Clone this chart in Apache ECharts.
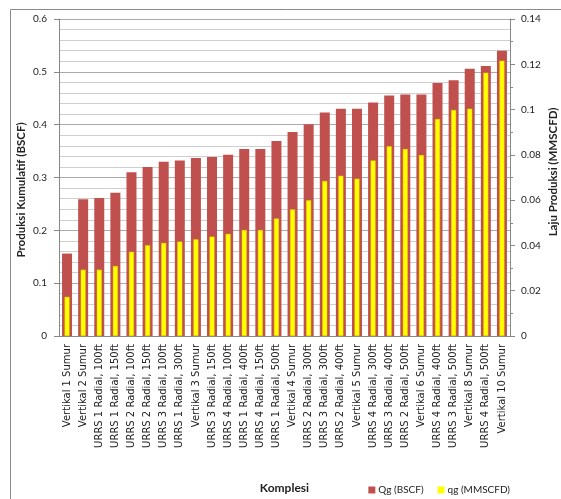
<!DOCTYPE html>
<html>
<head>
<meta charset="utf-8">
<script src="https://cdn.jsdelivr.net/npm/echarts@6/dist/echarts.min.js"></script>
<style>html,body{margin:0;padding:0;background:#fff;}#c{width:561px;height:499px;}</style>
</head>
<body>
<div id="c"></div>
<script>
const categories = [
  "Vertikal 1 Sumur", "Vertikal 2 Sumur", "URRS 1 Radial, 100ft", "URRS 1 Radial, 150ft",
  "URRS 2 Radial, 100ft", "URRS 2 Radial, 150ft", "URRS 3 Radial, 100ft", "URRS 1 Radial, 300ft",
  "Vertikal 3 Sumur", "URRS 3 Radial, 150ft", "URRS 4 Radial, 100ft", "URRS 1 Radial, 400ft",
  "URRS 4 Radial, 150ft", "URRS 1 Radial, 500ft", "Vertikal 4 Sumur", "URRS 2 Radial, 300ft",
  "URRS 3 Radial, 300ft", "URRS 2 Radial, 400ft", "Vertikal 5 Sumur", "URRS 4 Radial, 300ft",
  "URRS 3 Radial, 400ft", "URRS 2 Radial, 500ft", "Vertikal 6 Sumur", "URRS 4 Radial, 400ft",
  "URRS 3 Radial, 500ft", "Vertikal 8 Sumur", "URRS 4 Radial, 500ft", "Vertikal 10 Sumur"
];
const Qg = [0.156, 0.259, 0.261, 0.271, 0.310, 0.320, 0.330, 0.332, 0.337, 0.339, 0.343, 0.354,
  0.354, 0.369, 0.386, 0.401, 0.423, 0.430, 0.430, 0.442, 0.455, 0.457, 0.457, 0.479, 0.484,
  0.506, 0.511, 0.540];
const qg = [0.0173, 0.0293, 0.0293, 0.0309, 0.0372, 0.0401, 0.0411, 0.0417, 0.0427, 0.0439,
  0.0451, 0.0468, 0.0468, 0.0519, 0.0559, 0.0600, 0.0685, 0.0708, 0.0695, 0.0775, 0.0838,
  0.0826, 0.0799, 0.0958, 0.0998, 0.1004, 0.1163, 0.1216];
const leftTicks = {min: 0, max: 0.6, interval: 0.1};
const rightTicks = {min: 0, max: 0.14, interval: 0.02};
const leftTitle = 'Produksi Kumulatif (BSCF)';
const rightTitle = 'Laju Produksi (MMSCFD)';

const FONT = 'Lato';
const chart = echarts.init(document.getElementById('c'), null, {renderer: 'canvas'});
chart.setOption({
  animation: false,
  backgroundColor: '#fff',
  textStyle: {fontFamily: FONT},
  graphic: [{
    type: 'rect', shape: {x: 10.5, y: 9.5, width: 600, height: 600},
    style: {fill: 'none', stroke: '#8a8a8a', lineWidth: 1}, silent: true, z: -1
  }, {
    type: 'text', x: 21, y: 190, rotation: Math.PI / 2,
    style: {text: leftTitle, fontSize: 11.5, fontWeight: 'bold', fill: '#222', fontFamily: FONT,
      align: 'center', verticalAlign: 'middle'}
  }, {
    type: 'text', x: 553, y: 172, rotation: Math.PI / 2,
    style: {text: rightTitle, fontSize: 11.5, fontWeight: 'bold', fill: '#222', fontFamily: FONT,
      align: 'center', verticalAlign: 'middle'}
  }],
  grid: {left: 59, right: 51, top: 19, bottom: 162},
  legend: {
    right: 46, top: 480, itemWidth: 7, itemHeight: 7, itemGap: 14, icon: 'rect',
    itemStyle: {borderWidth: 0},
    textStyle: {fontSize: 10, color: '#222', fontFamily: FONT, padding: [0, 0, 0, -2]},
    data: ['Qg (BSCF)', 'qg (MMSCFD)']
  },
  xAxis: [{
    type: 'category', data: categories,
    name: 'Komplesi', nameLocation: 'middle', nameGap: 146,
    nameTextStyle: {fontSize: 12, fontWeight: 'bold', color: '#222', fontFamily: FONT},
    axisLine: {lineStyle: {color: '#888'}},
    axisTick: {show: false},
    axisLabel: {interval: 0, rotate: 90, fontSize: 10, color: '#222', margin: 8, fontFamily: 'DejaVu Sans'}
  }, {
    type: 'category', data: categories, show: false, position: 'bottom'
  }],
  yAxis: [{
    type: 'value', min: leftTicks.min, max: leftTicks.max, interval: leftTicks.interval,
    axisLine: {show: true, lineStyle: {color: '#888'}},
    axisTick: {show: true, length: 5, lineStyle: {color: '#888'}},
    axisLabel: {fontSize: 10, color: '#222', margin: 12, fontFamily: FONT},
    splitLine: {show: true, lineStyle: {color: '#aaa', width: 1}},
    minorTick: {show: false, splitNumber: 5},
    minorSplitLine: {show: true, lineStyle: {color: '#cfcfcf', width: 1}}
  }, {
    type: 'value', min: rightTicks.min, max: rightTicks.max, interval: rightTicks.interval,
    position: 'right',
    axisLine: {show: true, lineStyle: {color: '#888'}},
    axisTick: {show: true, length: 5, lineStyle: {color: '#888'}},
    minorTick: {show: true, splitNumber: 2, length: 3, lineStyle: {color: '#888'}},
    axisLabel: {fontSize: 10, color: '#222', margin: 11, fontFamily: FONT},
    splitLine: {show: false}
  }],
  series: [{
    name: 'Qg (BSCF)', type: 'bar', data: Qg, xAxisIndex: 0, yAxisIndex: 0,
    barWidth: 10, itemStyle: {color: '#C0504D'}, z: 2
  }, {
    name: 'qg (MMSCFD)', type: 'bar', data: qg, xAxisIndex: 1, yAxisIndex: 1,
    barWidth: 5, itemStyle: {color: '#FFFF00', borderColor: '#e0d000', borderWidth: 0.5}, z: 3
  }]
});
</script>
</body>
</html>
